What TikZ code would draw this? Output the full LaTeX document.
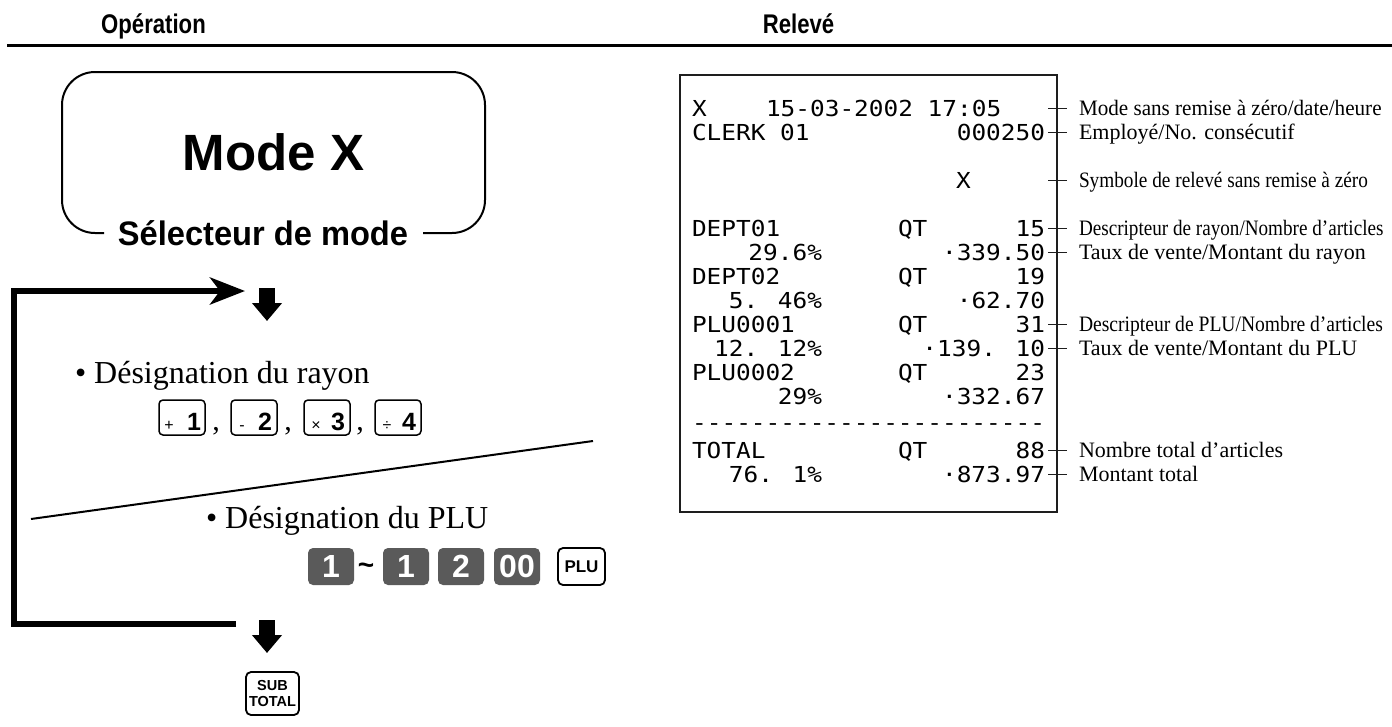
\documentclass[tikz,border=0pt]{standalone}
\usepackage{fontspec}
\setmainfont{Liberation Serif}
\newfontfamily\hv{Liberation Sans}
\newfontfamily\rcfont[FakeStretch=1.11,Ligatures=TeXOff]{DejaVu Sans Mono}
\usetikzlibrary{arrows.meta}
\definecolor{keygray}{RGB}{90,90,90}
\definecolor{rcgray}{RGB}{30,30,30}
\begin{document}
\begin{tikzpicture}[x=1pt,y=-1pt,
  every node/.style={inner sep=0pt, outer sep=0pt},
  hdr/.style={font=\hv\bfseries\fontsize{27}{32}\selectfont, anchor=base},
  bigsans/.style={font=\hv\bfseries\fontsize{51}{56}\selectfont, anchor=base},
  selsans/.style={font=\hv\bfseries\fontsize{34}{40}\selectfont, anchor=base},
  bul/.style={font=\fontsize{32}{38}\selectfont, anchor=base west},
  rkey/.style={draw, line width=1.5pt, rounded corners=4pt, minimum width=46pt, minimum height=35pt},
  rsym/.style={font=\hv\fontsize{16}{16}\selectfont, anchor=base},
  rnum/.style={font=\hv\bfseries\fontsize{25}{25}\selectfont, anchor=base},
  comma/.style={font=\fontsize{30}{30}\selectfont, anchor=base},
  dkey/.style={fill=keygray, rounded corners=5pt, minimum width=46pt, minimum height=37pt, text=white, font=\hv\bfseries\fontsize{32}{32}\selectfont},
  wkey/.style={draw, line width=1.8pt, rounded corners=5pt, minimum width=47pt, minimum height=37pt, font=\hv\bfseries\fontsize{17}{17}\selectfont},
  flow/.style={line width=6pt, line join=miter},
  blockarrow/.style={line width=16pt, -{Triangle[length=18pt,width=29pt]}},
  rc/.style={font=\rcfont\fontsize{22}{22}\selectfont, text=black},
  rl/.style={rc, anchor=base west},
  rr/.style={rc, anchor=base east},
  ann/.style={font=\fontsize{22}{22}\selectfont, anchor=base west},
  tickline/.style={line width=0.9pt, draw=rcgray},
]
\useasboundingbox (0,0) rectangle (1392,726);
\fill[white] (0,0) rectangle (1392,726);
% headers
\node[hdr] (hop) at (153.5,33) {\scalebox{0.82}[1]{Opération}};
\node[hdr] (hrel) at (798.5,33) {\scalebox{0.82}[1]{Relevé}};
\draw[line width=3pt] (7,45) -- (1392,45);
% mode box
\node[bigsans] (modex) at (273.5,170) {Mode X};
\node[selsans] (sel) at (263,245) {\scalebox{0.96}[1]{Sélecteur de mode}};
\draw[line width=2pt, rounded corners=33pt] (104,233) -- (62,233) -- (62,72) -- (485,72) -- (485,233) -- (423,233);
% loop and arrows
\coordinate (lb) at (236,624);
\coordinate (lc) at (14,624);
\coordinate (lt) at (245,291);
\draw[flow, -{Stealth[length=35pt,width=27pt,inset=10pt]}] (lb) -- (lc) |- (lt);
\coordinate (arrA) at (267,288);
\coordinate (arrAe) at (267,321);
\draw[blockarrow] (arrA) -- (arrAe);
% rayon
\node[bul] (ray) at (75,383) {• Désignation du rayon};
\node[rkey] (k1) at (182,417.5) {};
\node[rsym] (k1s) at (169,430) {+};
\node[rnum] (k1n) at (194,430) {1};
\node[comma] (c1) at (216,430) {,};
\node[rkey] (k2) at (254,417.5) {};
\node[rsym] (k2s) at (242,430) {-};
\node[rnum] (k2n) at (265,430) {2};
\node[comma] (c2) at (288,430) {,};
\node[rkey] (k3) at (327,417.5) {};
\node[rsym] (k3s) at (316,430) {×};
\node[rnum] (k3n) at (338,430) {3};
\node[comma] (c3) at (360,430) {,};
\node[rkey] (k4) at (398,417.5) {};
\node[rsym] (k4s) at (387,430) {÷};
\node[rnum] (k4n) at (409,430) {4};
% separator
\draw[line width=2pt] (31,519) -- (593,441);
% PLU
\node[bul] (plu) at (206,528) {• Désignation du PLU};
\node[dkey] (p1) at (331,566.5) {1};
\node[font=\hv\bfseries\fontsize{28}{28}\selectfont] (tl) at (366,569) {\textasciitilde};
\node[dkey] (p2) at (406,566.5) {1};
\node[dkey] (p3) at (461,566.5) {2};
\node[dkey] (p4) at (517,566.5) {00};
\node[wkey] (pk) at (581.5,566.5) {PLU};
% bottom arrow and subtotal
\coordinate (arrB) at (267,620);
\coordinate (arrBe) at (267,653);
\draw[blockarrow] (arrB) -- (arrBe);
\node[wkey, minimum width=53pt, minimum height=43pt, align=center, font=\hv\bfseries\fontsize{14.5}{16}\selectfont] (st) at (272.5,693.5) {SUB\\TOTAL};
% receipt
\node[draw=rcgray, line width=1.8pt, minimum width=377pt, minimum height=437pt] (rcpt) at (868.5,293.5) {};
\node[rl] (r0a) at (692,116) {X};
\node[rl] (r0b) at (766,116) {15-03-2002 17:05};
\node[rl] (r1a) at (692,140) {CLERK 01};
\node[rr] (r1b) at (1045,140) {000250};
\node[rl] (r3) at (956,188) {X};
\node[rl] (r5a) at (692,236) {DEPT01};
\node[rl] (r5b) at (898,236) {QT};
\node[rr] (r5c) at (1045,236) {15};
\node[rr] (r6a) at (822,260) {29.6\%};
\node[rr] (r6b) at (1045,260) {·339.50};
\node[rl] (r7a) at (692,284) {DEPT02};
\node[rl] (r7b) at (898,284) {QT};
\node[rr] (r7c) at (1045,284) {19};
\node[rr] (r8a) at (822,308) {5. 46\%};
\node[rr] (r8b) at (1045,308) {·62.70};
\node[rl] (r9a) at (692,332) {PLU0001};
\node[rl] (r9b) at (898,332) {QT};
\node[rr] (r9c) at (1045,332) {31};
\node[rr] (r10a) at (822,356) {12. 12\%};
\node[rr] (r10b) at (1045,356) {·139. 10};
\node[rl] (r11a) at (692,380) {PLU0002};
\node[rl] (r11b) at (898,380) {QT};
\node[rr] (r11c) at (1045,380) {23};
\node[rr] (r12a) at (822,404) {29\%};
\node[rr] (r12b) at (1045,404) {·332.67};
\node[rr] (r13) at (1045,430) {------------------------};
\node[rl] (r14a) at (692,458) {TOTAL};
\node[rl] (r14b) at (898,458) {QT};
\node[rr] (r14c) at (1045,458) {88};
\node[rr] (r15a) at (822,482) {76. 1\%};
\node[rr] (r15b) at (1045,482) {·873.97};
% annotations
\foreach \n/\y in {a/108,b/132,c/180,d/228,e/252,f/324,g/348,h/450,i/474}{
  \coordinate (t\n) at (1048,\y);
  \coordinate (t\n e) at (1067,\y);
  \draw[tickline] (t\n) -- (t\n e);
}
\node[ann] (la) at (1079,115.5) {\scalebox{0.96}[1]{Mode sans remise à zéro/date/heure}};
\node[ann] (lb2) at (1079,139.5) {Employé/No. consécutif};
\node[ann] (lc2) at (1079,187.5) {\scalebox{0.876}[1]{Symbole de relevé sans remise à zéro}};
\node[ann] (ld) at (1079,235.5) {\scalebox{0.87}[1]{Descripteur de rayon/Nombre d’articles}};
\node[ann] (le) at (1079,259.5) {Taux de vente/Montant du rayon};
\node[ann] (lf) at (1079,331.5) {\scalebox{0.89}[1]{Descripteur de PLU/Nombre d’articles}};
\node[ann] (lg) at (1079,355.5) {Taux de vente/Montant du PLU};
\node[ann] (lh) at (1079,457.5) {Nombre total d’articles};
\node[ann] (li) at (1079,481.5) {Montant total};
\end{tikzpicture}
\end{document}
